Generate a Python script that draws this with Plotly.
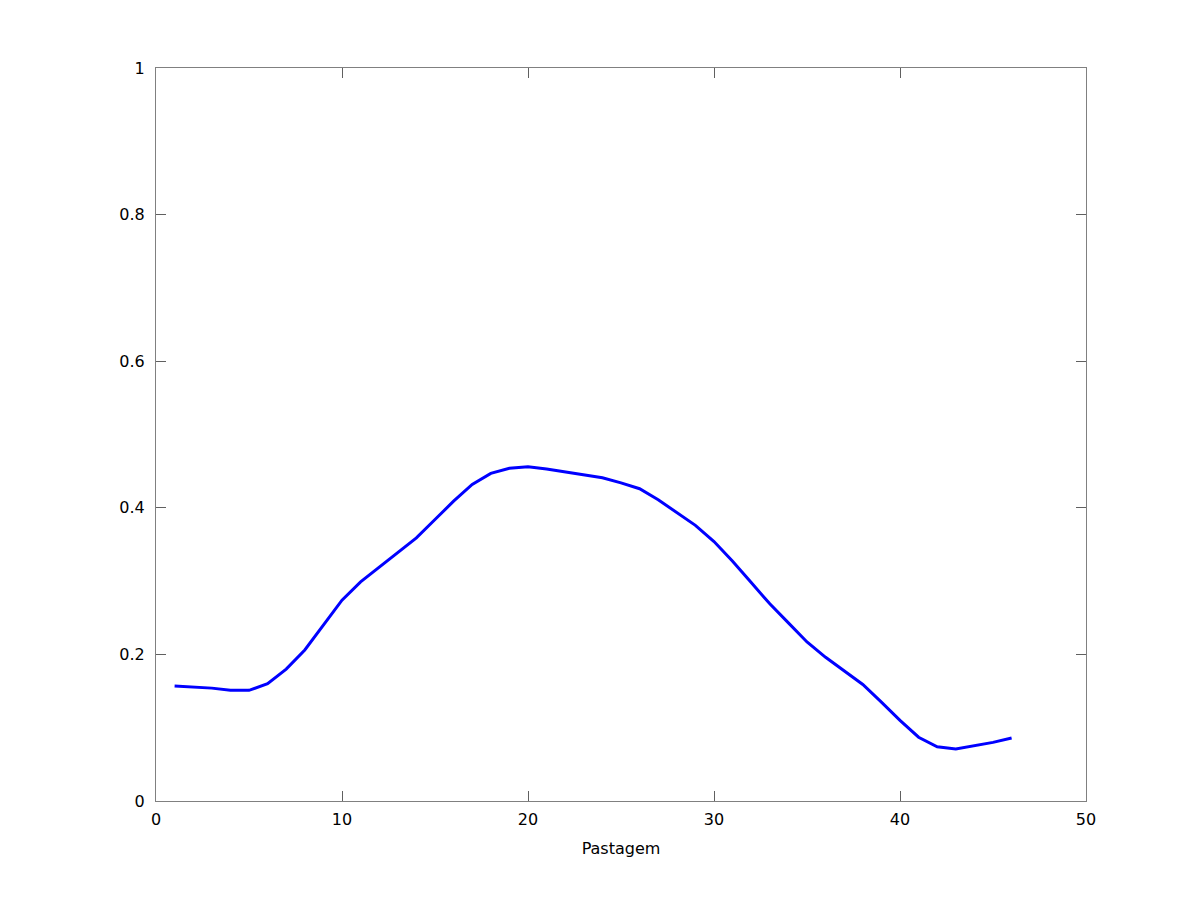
import plotly.graph_objects as go

x_vals = list(range(1, 47))
y_vals = [0.157, 0.156, 0.154, 0.151, 0.151, 0.160, 0.180, 0.206, 0.240, 0.274,
          0.299, 0.319, 0.338, 0.359, 0.384, 0.409, 0.432, 0.447, 0.454, 0.456,
          0.453, 0.449, 0.446, 0.441, 0.434, 0.426, 0.411, 0.394, 0.376, 0.354,
          0.327, 0.298, 0.269, 0.243, 0.217, 0.196, 0.178, 0.159, 0.135, 0.110,
          0.087, 0.074, 0.071, 0.075, 0.080, 0.086]
x_ticks = [0, 10, 20, 30, 40, 50]
y_ticks = [0, 0.2, 0.4, 0.6, 0.8, 1]
y_tick_text = ["0", "0.2", "0.4", "0.6", "0.8", "1"]
x_label = "Pastagem"

fig = go.Figure()
fig.add_trace(go.Scatter(x=x_vals, y=y_vals, mode="lines",
                         line=dict(color="#0000FF", width=3), showlegend=False))

axis_common = dict(showgrid=False, zeroline=False, showline=True, mirror="ticks",
                   linecolor="#808080", linewidth=1, ticks="inside", ticklen=10,
                   tickcolor="#606060", tickwidth=1,
                   tickfont=dict(family="DejaVu Sans", size=16, color="black"))

fig.update_layout(
    width=1200, height=900,
    paper_bgcolor="white", plot_bgcolor="white",
    margin=dict(l=148, r=122, t=60, b=107),
    xaxis=dict(range=[0, 50], tickvals=x_ticks, ticktext=[str(v) for v in x_ticks],
               ticklabelstandoff=4,
               title=dict(text=x_label, font=dict(family="DejaVu Sans", size=16, color="black"),
                          standoff=14),
               **axis_common),
    yaxis=dict(range=[0, 1], tickvals=y_ticks, ticktext=y_tick_text,
               ticklabelstandoff=7, **axis_common),
)

fig.write_html("out.html")
